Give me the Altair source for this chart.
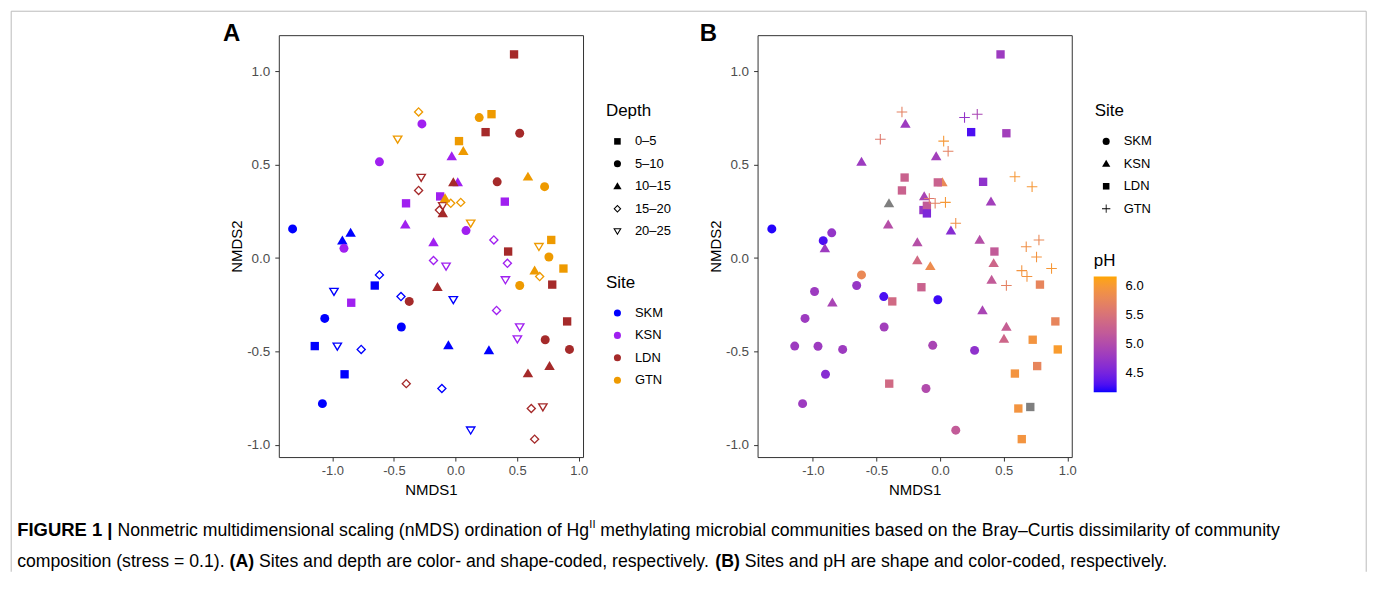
import altair as alt
import pandas as pd

# ---------------- data ----------------
nmds1 = [
    # SKM
    -1.323, -0.852, -0.919, -0.018, -0.058, 0.271, -0.111, 0.123, -0.618, -0.656,
    -0.987, -0.443, -1.062, -0.440, -1.143, -0.960, -0.766, -0.901, -1.081,
    # KSN
    -0.273, -0.618, -0.402, -0.408, -0.031, 0.018, 0.400, -0.125, 0.085, -0.179,
    0.311, -0.179, -0.077, 0.421, 0.405, 0.333, 0.521, 0.502, -0.906, -0.847,
    # LDN
    0.475, 0.244, 0.521, -0.279, -0.300, -0.018, 0.338, -0.131, -0.104, -0.104,
    0.427, -0.147, 0.785, 0.906, 0.728, 0.925, 0.763, 0.588, 0.709, 0.615,
    0.642, -0.376, -0.400,
    # GTN
    -0.300, -0.470, 0.192, 0.292, 0.028, 0.063, 0.588, 0.723, -0.085, -0.039,
    0.042, 0.123, 0.677, 0.777, 0.758, 0.876, 0.642, 0.683, 0.521,
]
nmds2 = [
    0.156, 0.135, 0.093, -0.223, -0.467, -0.494, -0.698, -0.921, -0.090, -0.147,
    -0.179, -0.206, -0.323, -0.369, -0.471, -0.472, -0.489, -0.622, -0.779,
    0.718, 0.515, 0.293, 0.179, 0.544, 0.405, 0.302, 0.330, 0.147, 0.084,
    0.097, -0.013, -0.044, -0.028, -0.117, -0.280, -0.369, -0.433, 0.052, -0.239,
    1.090, 0.674, 0.668, 0.431, 0.362, 0.405, 0.408, 0.257, 0.280, 0.239,
    0.035, -0.156, -0.142, -0.339, -0.437, -0.489, -0.578, -0.618, -0.797, -0.805,
    -0.969, -0.232, -0.672,
    0.782, 0.636, 0.752, 0.770, 0.626, 0.572, 0.435, 0.382, 0.319, 0.293,
    0.298, 0.186, 0.061, 0.097, 0.006, -0.056, -0.067, -0.099, -0.147,
]
site = ["SKM"] * 19 + ["KSN"] * 20 + ["LDN"] * 23 + ["GTN"] * 19
depth = [
    "5–10", "10–15", "10–15", "20–25", "10–15", "10–15", "15–20", "20–25", "15–20", "0–5",
    "20–25", "15–20", "5–10", "5–10", "0–5", "20–25", "15–20", "0–5", "5–10",
    "5–10", "5–10", "0–5", "10–15", "10–15", "10–15", "0–5", "0–5", "5–10", "10–15",
    "15–20", "15–20", "20–25", "15–20", "20–25", "15–20", "20–25", "20–25", "5–10", "0–5",
    "0–5", "0–5", "5–10", "20–25", "15–20", "10–15", "5–10", "15–20", "20–25", "10–15",
    "0–5", "10–15", "0–5", "0–5", "5–10", "5–10", "10–15", "10–15", "20–25", "15–20",
    "15–20", "5–10", "15–20",
    "15–20", "20–25", "5–10", "0–5", "0–5", "10–15", "10–15", "5–10", "10–15", "15–20",
    "15–20", "20–25", "20–25", "0–5", "5–10", "0–5", "10–15", "15–20", "5–10",
]
ph = [
    4.20, 4.72, 4.30, 4.25, 4.92, 4.68, 5.00, 5.20, 5.80, 4.75,
    4.80, 4.30, 4.80, 4.85, 4.80, 4.80, 4.80, 4.62, 4.80,
    4.80, 4.80, None, 5.05, 4.85, 5.80, 4.85, 4.92, 4.62, 5.05,
    5.05, 5.40, 5.85, 5.35, 5.20, 4.92, 5.25, 5.35, 4.80, 4.92,
    4.80, 4.30, 4.85, 5.30, 5.30, 5.30, 4.68, 4.72, 5.20, 4.55,
    5.20, 5.30, 5.75, 5.75, 5.95, 6.05, 5.75, 5.95, None, 5.95,
    5.95, 5.40, 5.40,
    5.70, 5.60, 4.72, 4.92, 6.00, 5.70, 6.00, 6.00, 5.60, 5.70,
    6.00, 5.90, 5.90, 5.80, 5.95, 6.00, 5.95, 5.95, 5.70,
]

SITES = ["SKM", "KSN", "LDN", "GTN"]
DEPTHS = ["0–5", "5–10", "10–15", "15–20", "20–25"]
SITE_COLORS = ["#0000FF", "#A020F0", "#A52A2A", "#EE9A00"]
PH_RANGE = [4.17, 6.17]
PH_TICKS = [4.5, 5.0, 5.5, 6.0]
AXIS_TICKS = [-1.0, -0.5, 0.0, 0.5, 1.0]

# caption pieces: (text, bold, superscript)
caption_1 = [("FIGURE 1 |", True, False),
             (" Nonmetric multidimensional scaling (nMDS) ordination of Hg", False, False),
             ("II", False, True),
             (" methylating microbial communities based on the Bray–Curtis dissimilarity of community", False, False)]
caption_2 = [("composition (stress = 0.1). ", False, False), ("(A)", True, False),
             (" Sites and depth are color- and shape-coded, respectively. ", False, False),
             ("(B)", True, False),
             (" Sites and pH are shape and color-coded, respectively.", False, False)]

df = pd.DataFrame({"NMDS1": nmds1, "NMDS2": nmds2, "Site": site,
                   "Depth": depth, "pH": ph})
df_ph = df[df["pH"].notna()]
df_na = df[df["pH"].isna()]
dummy = pd.DataFrame({"d": [0]})

# ---------------- styling helpers ----------------
FONT = "Liberation Sans"
XDOM = [-1.435, 1.035]
YDOM = [-1.065, 1.193]
LABEL_EXPR = "datum.value < 0 ? '-' + format(-datum.value, '.1f') : format(datum.value, '.1f')"

# symbol paths (unit square -1..1)
SQ = "M-0.93,-0.93L0.93,-0.93L0.93,0.93L-0.93,0.93Z"
TRI = "M0,-1.15L1.17,0.85L-1.17,0.85Z"
DIA_OPEN = "M0,-1.11L1.11,0L0,1.11L-1.11,0ZM0,-0.69L-0.69,0L0,0.69L0.69,0Z"
TRID_OPEN = "M-1.2,-0.85L1.2,-0.85L0,1.15ZM-0.67,-0.55L0,0.567L0.67,-0.55Z"
PLUS = ("M-1.18,-0.12L-0.12,-0.12L-0.12,-1.18L0.12,-1.18L0.12,-0.12L1.18,-0.12"
        "L1.18,0.12L0.12,0.12L0.12,1.18L-0.12,1.18L-0.12,0.12L-1.18,0.12Z")

# Helvetica/Arial advance widths (1/1000 em) to lay caption pieces side by side
_W = {" ": 278, "(": 333, ")": 333, ",": 278, "-": 333, ".": 278, "=": 584, "|": 260,
      "–": 556, "A": 667, "B": 667, "C": 722, "D": 722, "E": 667, "F": 611, "G": 778,
      "H": 722, "I": 278, "M": 833, "N": 722, "R": 722, "S": 667, "U": 722,
      "a": 556, "b": 556, "c": 500, "d": 556, "e": 556, "f": 278, "g": 556, "h": 556,
      "i": 222, "j": 222, "k": 500, "l": 222, "m": 833, "n": 556, "o": 556, "p": 556,
      "q": 556, "r": 333, "s": 500, "t": 278, "u": 556, "v": 500, "w": 722, "x": 500,
      "y": 500, "z": 500}
_WB = {"A": 722, "B": 722, "|": 280, "i": 278, "l": 278, "r": 389, "t": 333}


def text_width(txt, size, bold):
    tot = 0
    for ch in txt:
        if bold and ch in _WB:
            tot += _WB[ch]
        elif ch.isdigit():
            tot += 556
        else:
            tot += _W.get(ch, 556)
    return tot * size / 1000.0


def x_enc():
    return alt.X("NMDS1:Q",
                 scale=alt.Scale(domain=XDOM, nice=False, zero=False),
                 axis=alt.Axis(values=AXIS_TICKS, labelExpr=LABEL_EXPR, title="NMDS1",
                               grid=False, domain=False, tickSize=4, tickColor="#333333",
                               labelColor="#4D4D4D", labelFontSize=13, labelPadding=3,
                               titleFontSize=15, titleFontWeight="normal",
                               titleColor="black", titlePadding=6))


def y_enc():
    return alt.Y("NMDS2:Q",
                 scale=alt.Scale(domain=YDOM, nice=False, zero=False),
                 axis=alt.Axis(values=AXIS_TICKS, labelExpr=LABEL_EXPR, title="NMDS2",
                               grid=False, domain=False, tickSize=4, tickColor="#333333",
                               labelColor="#4D4D4D", labelFontSize=13.5, labelPadding=5,
                               titleFontSize=15, titleFontWeight="normal",
                               titleColor="black", titlePadding=2))


def sym_legend(title, lx, ly, shape_legend):
    kw = dict(title=title, orient="none", legendX=lx, legendY=ly,
              titleFontSize=17, titleFontWeight="normal", titleColor="black",
              labelFontSize=13, labelColor="black", rowPadding=8.5, titlePadding=15,
              symbolOffset=5, labelOffset=11, padding=0, symbolSize=50,
              symbolStrokeWidth=0)
    if shape_legend:
        kw["symbolFillColor"] = "black"
    else:
        kw["symbolType"] = "circle"
    return alt.Legend(**kw)


def panel_letter(letter, dx):
    return alt.Chart(dummy).mark_text(
        text=letter, font=FONT, fontSize=24, fontWeight="bold", align="left",
        baseline="alphabetic", color="black"
    ).encode(x=alt.value(dx), y=alt.value(6))


def caption_line(pieces, x0, y0, size, lead_bold_size=None):
    layers = []
    x = x0
    for i, (txt, bold, sup) in enumerate(pieces):
        fs = size * 0.62 if sup else size
        if i == 0 and bold and lead_bold_size:
            fs = lead_bold_size
        dy = -size * 0.42 if sup else 0
        core = txt.strip(" ")
        lead = len(txt) - len(txt.lstrip(" "))
        trail = len(txt) - len(txt.rstrip(" "))
        x += text_width(" " * lead, fs, bold)
        layers.append(alt.Chart(dummy).mark_text(
            text=core, font=FONT, fontSize=fs, fontWeight="bold" if bold else "normal",
            align="left", baseline="alphabetic", color="black"
        ).encode(x=alt.value(round(x, 2)), y=alt.value(y0 + dy)))
        x += text_width(core, fs, bold) + text_width(" " * trail, fs, bold)
    return layers


FRAME_L, FRAME_R, FRAME_T, FRAME_B = -268.3, 1090.2, -24, 538
frame_col = "#BBBBBB"
frame = [
    alt.Chart(dummy).mark_rule(color=frame_col, strokeWidth=1).encode(
        x=alt.value(FRAME_L), x2=alt.value(FRAME_R), y=alt.value(FRAME_T)),
    alt.Chart(dummy).mark_rule(color=frame_col, strokeWidth=1).encode(
        x=alt.value(FRAME_L), y=alt.value(FRAME_T), y2=alt.value(FRAME_B)),
    alt.Chart(dummy).mark_rule(color=frame_col, strokeWidth=1).encode(
        x=alt.value(FRAME_R), y=alt.value(FRAME_T), y2=alt.value(FRAME_B)),
]

CAP_SIZE = 17.7
caption = caption_line(caption_1, -262.3, 502, CAP_SIZE, lead_bold_size=18.5) + \
    caption_line(caption_2, -262.3, 533, CAP_SIZE)

# ---------------- panel A ----------------
pointsA = alt.Chart(df).mark_point(filled=True, opacity=1, size=81, strokeWidth=0).encode(
    x=x_enc(), y=y_enc(),
    shape=alt.Shape("Depth:N",
                    scale=alt.Scale(domain=DEPTHS, range=[SQ, "circle", TRI, DIA_OPEN, TRID_OPEN]),
                    legend=sym_legend("Depth", 328, 68, True)),
    color=alt.Color("Site:N", scale=alt.Scale(domain=SITES, range=SITE_COLORS),
                    legend=sym_legend("Site", 328, 240, False)),
)

chartA = alt.layer(*frame, *caption, panel_letter("A", -56), pointsA).properties(
    width=305, height=423)

# ---------------- panel B ----------------
shapeB = alt.Shape("Site:N", scale=alt.Scale(domain=SITES, range=["circle", TRI, SQ, PLUS]),
                   legend=sym_legend("Site", 338, 68, True))

pointsB = alt.Chart(df_ph).mark_point(filled=True, opacity=1, size=81, strokeWidth=0).encode(
    x=x_enc(), y=y_enc(), shape=shapeB,
    color=alt.Color("pH:Q",
                    scale=alt.Scale(domain=PH_RANGE, range=["#0000FF", "#FFA500"],
                                    interpolate="lab", nice=False, zero=False),
                    legend=alt.Legend(title="pH", orient="none", legendX=337, legendY=218,
                                      direction="vertical", gradientLength=116,
                                      gradientThickness=23, gradientStrokeWidth=0,
                                      values=PH_TICKS, format=".1f",
                                      titleFontSize=17, titleFontWeight="normal",
                                      titleColor="black", titlePadding=7,
                                      labelFontSize=13, labelColor="black",
                                      labelOffset=9, padding=0)),
)
pointsB_na = alt.Chart(df_na).mark_point(filled=True, opacity=1, size=81, strokeWidth=0,
                                         color="#7F7F7F").encode(
    x=x_enc(), y=y_enc(), shape=shapeB)

chartB = alt.layer(panel_letter("B", -58), pointsB, pointsB_na).properties(
    width=315, height=423)

chart = alt.hconcat(chartA, chartB, spacing=175, bounds="flush").resolve_scale(
    shape="independent", color="independent"
).resolve_legend(
    shape="independent", color="independent"
).properties(
    padding={"left": 1.5, "top": 1.5, "right": 0, "bottom": 1}
).configure_view(
    stroke="#333333", strokeWidth=1
).configure_axis(
    labelFont=FONT, titleFont=FONT
).configure_legend(
    labelFont=FONT, titleFont=FONT
).configure_text(font=FONT)

chart.save("out.html", embed_options={"renderer": "svg", "actions": False})
